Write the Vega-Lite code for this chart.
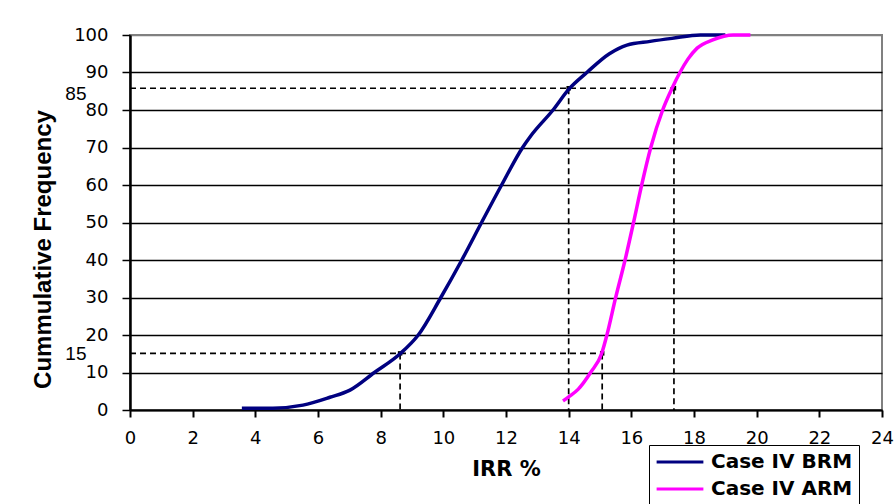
{
  "$schema": "https://vega.github.io/schema/vega-lite/v6.json",
  "width": 752,
  "height": 375,
  "autosize": {"type": "none"},
  "padding": {"left": 130, "top": 35, "right": 13, "bottom": 94},
  "background": "white",
  "config": {"view": {"stroke": "#808080", "strokeWidth": 2}},
  "datasets": {
    "curves": [
      {"series": "Case IV BRM", "x": 3.57, "y": 0.5},
      {"series": "Case IV BRM", "x": 4.56, "y": 0.5},
      {"series": "Case IV BRM", "x": 5.52, "y": 1.3},
      {"series": "Case IV BRM", "x": 6.38, "y": 3.4},
      {"series": "Case IV BRM", "x": 7.02, "y": 5.3},
      {"series": "Case IV BRM", "x": 7.8, "y": 10},
      {"series": "Case IV BRM", "x": 8.62, "y": 15},
      {"series": "Case IV BRM", "x": 9.2, "y": 20},
      {"series": "Case IV BRM", "x": 9.92, "y": 30},
      {"series": "Case IV BRM", "x": 10.59, "y": 40},
      {"series": "Case IV BRM", "x": 11.22, "y": 50},
      {"series": "Case IV BRM", "x": 11.86, "y": 60},
      {"series": "Case IV BRM", "x": 12.53, "y": 70},
      {"series": "Case IV BRM", "x": 12.8, "y": 73.2},
      {"series": "Case IV BRM", "x": 13.5, "y": 80},
      {"series": "Case IV BRM", "x": 14.0, "y": 85.5},
      {"series": "Case IV BRM", "x": 14.58, "y": 90},
      {"series": "Case IV BRM", "x": 15.3, "y": 95},
      {"series": "Case IV BRM", "x": 15.86, "y": 97.3},
      {"series": "Case IV BRM", "x": 16.6, "y": 98.3},
      {"series": "Case IV BRM", "x": 17.3, "y": 99.1},
      {"series": "Case IV BRM", "x": 18.2, "y": 100},
      {"series": "Case IV BRM", "x": 19.0, "y": 100},
      {"series": "Case IV ARM", "x": 13.82, "y": 2.4},
      {"series": "Case IV ARM", "x": 14.0, "y": 3.5},
      {"series": "Case IV ARM", "x": 14.3, "y": 5.5},
      {"series": "Case IV ARM", "x": 14.7, "y": 10},
      {"series": "Case IV ARM", "x": 15.05, "y": 15},
      {"series": "Case IV ARM", "x": 15.22, "y": 20},
      {"series": "Case IV ARM", "x": 15.5, "y": 30},
      {"series": "Case IV ARM", "x": 15.8, "y": 40},
      {"series": "Case IV ARM", "x": 16.07, "y": 50},
      {"series": "Case IV ARM", "x": 16.33, "y": 60},
      {"series": "Case IV ARM", "x": 16.62, "y": 70},
      {"series": "Case IV ARM", "x": 17.0, "y": 80},
      {"series": "Case IV ARM", "x": 17.3, "y": 85.8},
      {"series": "Case IV ARM", "x": 17.55, "y": 90},
      {"series": "Case IV ARM", "x": 17.8, "y": 93.5},
      {"series": "Case IV ARM", "x": 18.1, "y": 96.5},
      {"series": "Case IV ARM", "x": 18.6, "y": 98.7},
      {"series": "Case IV ARM", "x": 19.25, "y": 100},
      {"series": "Case IV ARM", "x": 19.8, "y": 100}
    ],
    "refs": [
      {"x": 0, "y": 85.8, "x2": 17.36, "y2": 85.8},
      {"x": 14.0, "y": 85.8, "x2": 14.0, "y2": 0},
      {"x": 17.36, "y": 85.8, "x2": 17.36, "y2": 0},
      {"x": 0, "y": 15.1, "x2": 15.07, "y2": 15.1},
      {"x": 8.62, "y": 15.1, "x2": 8.62, "y2": 0},
      {"x": 15.07, "y": 15.1, "x2": 15.07, "y2": 0}
    ],
    "corners": [
      {"x": 14.0, "y": 85.8},
      {"x": 17.36, "y": 85.8},
      {"x": 8.62, "y": 15.1},
      {"x": 15.07, "y": 15.1}
    ]
  },
  "encoding": {
    "x": {
      "field": "x",
      "type": "quantitative",
      "scale": {"domain": [0, 24], "nice": false, "zero": false},
      "axis": {
        "title": "IRR %",
        "values": [0, 2, 4, 6, 8, 10, 12, 14, 16, 18, 20, 22, 24],
        "grid": false,
        "domainColor": "#000",
        "domainWidth": 2,
        "tickColor": "#000",
        "tickWidth": 2,
        "tickSize": 7,
        "labelFont": "DejaVu Sans",
        "labelFontSize": 18,
        "labelColor": "#000",
        "labelBaseline": "alphabetic",
        "labelPadding": 26,
        "labelOverlap": false,
        "labelFlush": false,
        "titleFont": "DejaVu Sans",
        "titleFontWeight": "bold",
        "titleFontSize": 21,
        "titleColor": "#000",
        "titleY": 65,
        "titleBaseline": "alphabetic"
      }
    },
    "y": {
      "field": "y",
      "type": "quantitative",
      "scale": {"domain": [0, 100], "nice": false},
      "axis": {
        "title": "Cummulative Frequency",
        "values": [0, 10, 15, 20, 30, 40, 50, 60, 70, 80, 85, 90, 100],
        "grid": true,
        "gridColor": {"condition": {"test": "datum.value == 100", "value": "#808080"}, "value": "#000"},
        "gridOpacity": {"condition": {"test": "datum.value == 15 || datum.value == 85", "value": 0}, "value": 1},
        "gridWidth": 1.5,
        "domainColor": "#000",
        "domainWidth": 2.5,
        "tickColor": "#000",
        "tickWidth": 1.5,
        "tickSize": 8,
        "tickOpacity": {"condition": {"test": "datum.value == 15 || datum.value == 85", "value": 0}, "value": 1},
        "labelFont": {"condition": {"test": "datum.value == 15 || datum.value == 85", "value": "Liberation Sans"}, "value": "DejaVu Sans"},
        "labelFontSize": {"condition": {"test": "datum.value == 15 || datum.value == 85", "value": 19}, "value": 18},
        "labelPadding": {"condition": {"test": "datum.value == 15 || datum.value == 85", "value": 36}, "value": 14},
        "labelOffset": {"condition": {"test": "datum.value == 85", "value": 2}, "value": 0},
        "labelColor": "#000",
        "labelOverlap": false,
        "labelFlush": false,
        "titleFont": "Liberation Sans",
        "titleFontSize": 24,
        "titleFontWeight": "bold",
        "titleColor": "#000",
        "titleX": -87,
        "titleY": 214,
        "titleAngle": -90,
        "titleAlign": "center",
        "titleBaseline": "middle"
      }
    }
  },
  "layer": [
    {
      "data": {"name": "refs"},
      "mark": {"type": "rule", "strokeDash": [6, 4], "strokeWidth": 1.7, "color": "#000"},
      "encoding": {"x2": {"field": "x2"}, "y2": {"field": "y2"}}
    },
    {
      "data": {"name": "corners"},
      "mark": {"type": "point", "shape": "square", "filled": true, "size": 20, "color": "#000", "opacity": 1}
    },
    {
      "data": {"name": "curves"},
      "mark": {"type": "line", "interpolate": "monotone", "strokeWidth": 3.5},
      "encoding": {
        "color": {
          "field": "series",
          "type": "nominal",
          "scale": {"domain": ["Case IV BRM", "Case IV ARM"], "range": ["#000080", "#FF00FF"]},
          "legend": {
            "title": null,
            "orient": "none",
            "legendX": 519,
            "legendY": 410,
            "direction": "vertical",
            "symbolType": "M-2.5,0H2.5",
            "symbolSize": 350,
            "symbolStrokeWidth": 3,
            "symbolOffset": 14,
            "labelFont": "DejaVu Sans",
            "labelFontSize": 20,
            "labelFontWeight": "bold",
            "labelColor": "#000",
            "labelOffset": 20,
            "labelLimit": 300,
            "rowPadding": 6,
            "padding": 6,
            "strokeColor": "#000",
            "fillColor": "#fff"
          }
        }
      }
    }
  ]
}
